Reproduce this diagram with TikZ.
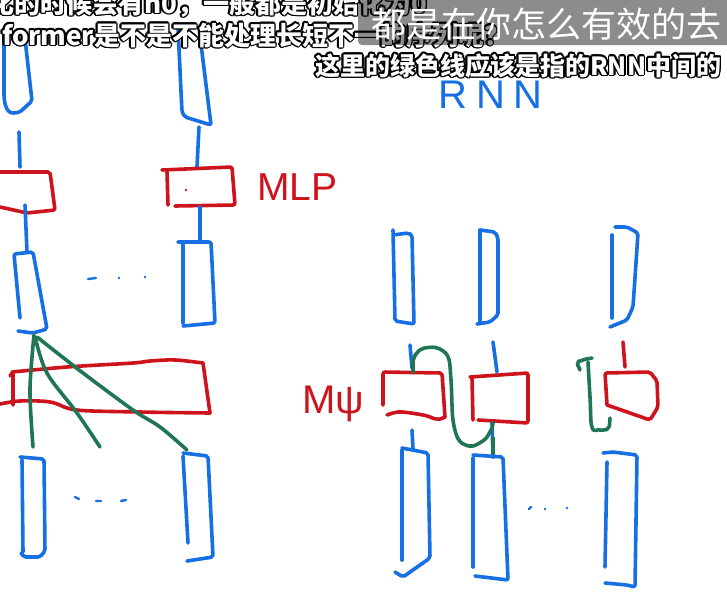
\documentclass[tikz,border=0pt]{standalone}
\usepackage{fontspec}
\newfontfamily\cjk{Noto Sans CJK SC}
\newfontfamily\hand{Liberation Sans}
\definecolor{penblue}{RGB}{22,112,228}
\definecolor{penred}{RGB}{205,20,28}
\definecolor{pengreen}{RGB}{32,118,82}
\tikzset{
  pen/.style={line width=3.6pt, line cap=round, line join=round, rounded corners=2pt},
  bl/.style={pen, draw=penblue},
  rd/.style={pen, draw=penred},
  gr/.style={pen, draw=pengreen},
  subt/.style={anchor=base west, inner sep=0pt, font=\cjk\bfseries},
}
\newcommand\subline[4]{%
  \foreach \a in {0,30,...,330}{\path #2 ++(\a:1.8pt) node[subt,text=black] {\fontsize{#3}{#3}\selectfont #4};}
  \node[subt,text=white] (#1) at #2 {\fontsize{#3}{#3}\selectfont #4};
}
\begin{document}
\begin{tikzpicture}[x=1pt,y=-1pt]
\useasboundingbox (0,0) rectangle (727,613);
\clip (0,0) rectangle (727,613);
\fill[white] (0,0) rectangle (727,613);

% ---------------- Transformer (left) ----------------
\draw[bl] (4,30) -- (4,92) to[out=-90,in=180] (15,113) -- (20,112) -- (32,101) -- (24,30);
\draw[bl] (178,28) -- (182,112) -- (185,117) -- (211,125) -- (199,28);
\draw[bl] (19,132) -- (20,167);
\draw[bl] (199,127) -- (197,167);
\draw[rd] (0,172) -- (50,172) -- (55,210) -- (27,213) -- (0,207);
\draw[rd] (162,170) -- (232,167) -- (235,205) -- (175,206);
\draw[rd] (167,172) -- (168,205);
\fill[penred] (186,190) circle (1.3);
\node[anchor=base west, inner sep=0pt, text=penred, font=\hand\fontsize{39pt}{39pt}\selectfont] (mlp) at (257,200) {MLP};
\draw[bl] (25,205) -- (27,252);
\draw[bl] (200,207) -- (200,240);
\draw[bl] (20,318) -- (14,254) -- (33,252) -- (47,329) -- (33,333) -- (18,331);
\draw[bl] (183,323) -- (183,245);
\draw[bl] (178,242) -- (211,242) -- (215,323) -- (183,326);
\draw[penblue, line width=2.4pt, line cap=round] (88,279) -- (96,278);
\fill[penblue] (119,278) circle (1.4) (145,277) circle (1.4);

% multi-head attention box
\draw[rd] plot[smooth] coordinates {(12,372) (67,367) (133,363) (150,361) (175,360) (203,363)};
\draw[rd] (203,363) -- (210,413);
\draw[rd] plot[smooth] coordinates {(210,413) (140,412) (77,410) (50,402) (20,401) (0,404)};
\draw[rd] (10,376) -- (13,372) -- (13,405);

% attention lines
\coordinate (g0) at (34,335);
\draw[gr] plot[smooth] coordinates {(34,335) (30,390) (33,447)};
\draw[gr] plot[smooth] coordinates {(35,337) (47,373) (77,413) (100,447)};
\draw[gr] plot[smooth] coordinates {(37,337) (83,373) (133,410) (160,427) (187,450)};

% bottom bars (left)
\draw[bl] (20,457) -- (44,459) -- (45,551) -- (40,557) -- (24,557) -- (21,553);
\draw[bl] (22,460) -- (23,552);
\draw[bl] (183,453) -- (208,456) -- (213,557) -- (187,561);
\draw[bl] (183,456) -- (188,543);
\draw[penblue, line width=2.4pt, line cap=round] (75,497) -- (79,499) (96,501) -- (101,501) (121,501) -- (126,500);

% ---------------- RNN (right) ----------------
\node[anchor=base west, inner sep=0pt, text=penblue, font=\hand\fontsize{40pt}{40pt}\selectfont] (rnn) at (438,108) {R\hspace{9pt}N\hspace{9pt}N};
\draw[bl] (393,230) -- (395,321) -- (414,324) -- (412,235) -- (408,233) -- (393,235);
\draw[bl] (480,230) -- (480,323);
\draw[bl] (480,230) -- (495,232) -- (498,238) -- (498,315) -- (490,322) -- (477,324);
\draw[bl] (615,227) -- (627,227) -- (638,233) -- (633,307) -- (627,320) -- (610,327);
\draw[bl] (612,235) -- (612,318);

\draw[bl] (410,345) -- (412,368);
\draw[bl] (493,342) -- (497,372);
\draw[rd] (623,342) -- (625,367);

\node[anchor=base west, inner sep=0pt, text=penred, font=\hand\fontsize{40pt}{40pt}\selectfont] (mpsi) at (302,413) {Mψ};
\draw[rd] (383,405) -- (383,372) -- (442,373) -- (445,417);
\draw[rd] plot[smooth] coordinates {(387,415) (400,412) (423,415) (437,419) (445,417)};
\draw[rd] (472,378) -- (473,420);
\draw[rd] (470,377) -- (528,373) -- (528,423) -- (478,420);
\draw[rd] (607,405) -- (605,373) -- (650,372) -- (657,381) -- (658,407) -- (650,420) -- (607,405);

\draw[bl] (412,430) -- (413,449);
\draw[bl] (492,423) -- (493,457);

\draw[gr] plot[smooth] coordinates {(413,372) (414,358) (422,349) (437,348) (448,357) (451,380) (453,420) (459,440) (471,446) (484,440) (491,430) (493,423)};
\draw[gr] (493,438) -- (493,457);
\draw[gr] plot[smooth] coordinates {(580,370) (578,363) (583,360) (592,358)};
\draw[gr] plot[smooth] coordinates {(588,362) (590,397) (592,427) (600,430) (608,428) (610,418)};

\draw[bl] (402,448) -- (428,453) -- (430,558) -- (403,577) -- (395,572);
\draw[bl] (402,450) -- (402,560);
\draw[bl] (473,455) -- (503,457) -- (508,580) -- (475,576);
\draw[bl] (473,458) -- (473,567);
\draw[bl] (603,453) -- (613,452) -- (637,455) -- (635,587) -- (627,585) -- (605,583);
\draw[bl] (607,462) -- (605,567);
\draw[penblue, line width=2.4pt, line cap=round] (529,509) -- (531,507);
\fill[penblue] (545,509) circle (1.4) (567,508) circle (1.4);

% ---------------- subtitles ----------------
\subline{s1}{(-12,13)}{26pt}{化的时候会有h0，一般都是初始化为0}
\subline{s2}{(2,45)}{26pt}{former是不是不能处理长短不一的序列呢？}
\fill[black, fill opacity=0.45, rounded corners=4pt] (358,-6) rectangle (735,45);
\node[anchor=base west, inner sep=0pt, text=white, font=\cjk\fontsize{35pt}{35pt}\selectfont] (gt) at (371,37) {都是在你怎么有效的去};
\subline{s3}{(315,75)}{25pt}{这里的绿色线应该是指的RNN中间的}
\end{tikzpicture}
\end{document}
